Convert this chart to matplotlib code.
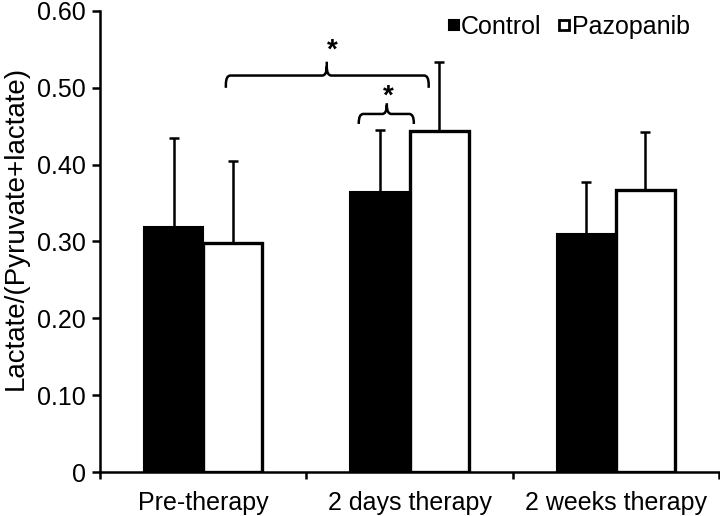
import matplotlib
matplotlib.use("Agg")
import matplotlib.pyplot as plt
from matplotlib.path import Path
from matplotlib.patches import PathPatch
from matplotlib.lines import Line2D
import numpy as np

plt.rcParams['font.family'] = ['Liberation Sans', 'DejaVu Sans']

groups = ["Pre-therapy", "2 days therapy", "2 weeks therapy"]
control = [0.319, 0.365, 0.310]
control_err = [0.116, 0.080, 0.067]
pazopanib = [0.298, 0.444, 0.367]
pazopanib_err = [0.107, 0.090, 0.075]


def brace(ax, x0, x1, xt, y_end, y_h, y_tip, rx=0.022, ry=0.012):
    verts = [
        (x0, y_end), (x0, y_h - ry), (x0, y_h), (x0 + rx, y_h),
        (xt - rx, y_h), (xt, y_h), (xt, y_h + ry), (xt, y_tip),
        (xt, y_h + ry), (xt, y_h), (xt + rx, y_h),
        (x1 - rx, y_h), (x1, y_h), (x1, y_h - ry), (x1, y_end),
    ]
    codes = [Path.MOVETO, Path.LINETO, Path.CURVE3, Path.CURVE3,
             Path.LINETO, Path.CURVE3, Path.CURVE3, Path.LINETO,
             Path.MOVETO, Path.CURVE3, Path.CURVE3,
             Path.LINETO, Path.CURVE3, Path.CURVE3, Path.LINETO]
    ax.add_patch(PathPatch(Path(verts, codes), fill=False, lw=1.8,
                           edgecolor='black', capstyle='butt'))


fig = plt.figure(figsize=(7.2, 5.16), dpi=100)
ax = fig.add_axes([100 / 720, 1 - 472 / 516, 619 / 720, 461 / 516])

x = np.arange(len(groups))
w = 0.286
err_kw = dict(ecolor='black', elinewidth=1.8, capsize=3.5, capthick=1.8)
ax.bar(x - w / 2, control, w, color='black', edgecolor='black', lw=1.5,
       yerr=[np.zeros(3), control_err], error_kw=err_kw, zorder=2)
ax.bar(x + w / 2, pazopanib, w, color='white', edgecolor='black', lw=2.4,
       yerr=[np.zeros(3), pazopanib_err], error_kw=err_kw, zorder=2)

ax.set_xlim(-0.5, 2.5)
ax.set_ylim(0, 0.6)
ax.set_yticks(np.arange(0, 0.61, 0.1))
ax.set_yticklabels(["0"] + ["%.2f" % v for v in np.arange(0.1, 0.61, 0.1)])
ax.set_xticks([-0.5, 0.5, 1.5, 2.5])
ax.set_xticklabels([])
ax.set_xticks(x, minor=True)
ax.set_xticklabels(groups, minor=True)
ax.tick_params(axis='x', which='minor', length=0, pad=14, labelsize=18)
ax.tick_params(axis='x', which='major', length=5, width=1.8, direction='out')
ax.tick_params(axis='y', length=6, width=1.8, direction='out', labelsize=18, pad=4)

for s in ['top', 'right']:
    ax.spines[s].set_visible(False)
for s in ['left', 'bottom']:
    ax.spines[s].set_linewidth(1.8)

ax.set_ylabel("Lactate/(Pyruvate+lactate)", fontsize=20)
ax.yaxis.set_label_coords(-0.115, 0.53)

# significance braces
brace(ax, 0.110, 1.093, 0.599, 0.500, 0.516, 0.534)
ax.text(0.625, 0.539, "*", fontsize=20, fontweight='bold', ha='center', va='baseline')
brace(ax, 0.754, 1.021, 0.890, 0.453, 0.466, 0.480)
ax.text(0.899, 0.480, "*", fontsize=20, fontweight='bold', ha='center', va='baseline')

handles = [
    Line2D([], [], ls='none', marker='s', markersize=7, markerfacecolor='black',
           markeredgecolor='black', markeredgewidth=1.5),
    Line2D([], [], ls='none', marker='s', markersize=7, markerfacecolor='white',
           markeredgecolor='black', markeredgewidth=2),
]
fig.legend(handles, ["Control", "Pazopanib"], loc='upper right',
           bbox_to_anchor=(0.975, 0.995), ncol=2, frameon=False, fontsize=18,
           handlelength=0.4, handletextpad=0.1, columnspacing=0.7, borderpad=0)

fig.savefig("out.png", dpi=100)
